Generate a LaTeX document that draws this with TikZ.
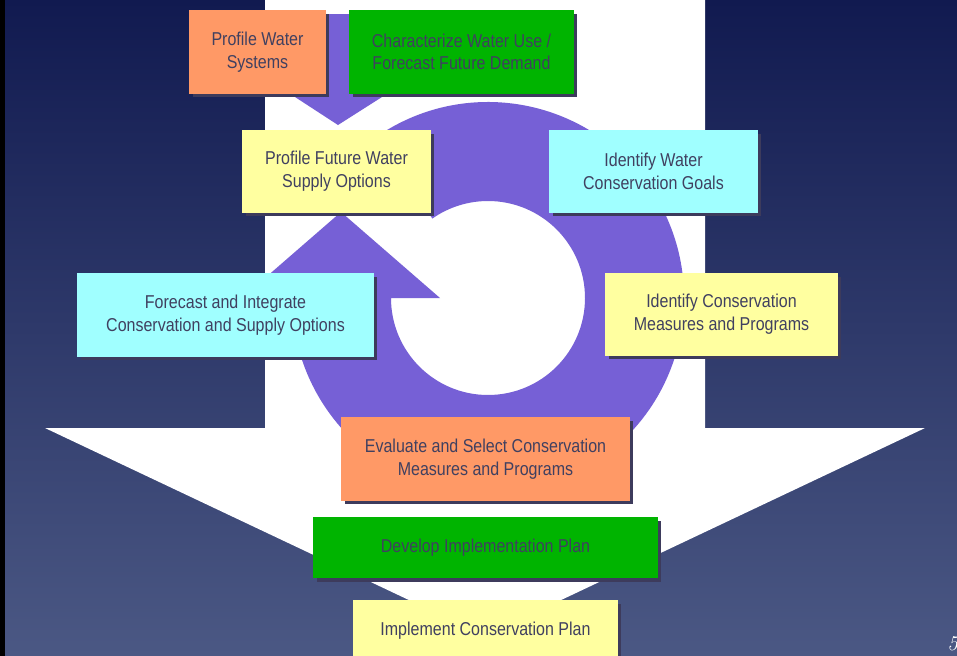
\documentclass[tikz,border=0pt]{standalone}
\usepackage{fontspec}
\usetikzlibrary{shadows}
\newfontfamily\boxfont[FakeStretch=0.86]{Liberation Sans}

\definecolor{bgtop}{RGB}{17,26,80}
\definecolor{bgbot}{RGB}{75,88,132}
\definecolor{ringpurple}{RGB}{118,96,214}
\definecolor{stepor}{RGB}{255,153,102}
\definecolor{stepgr}{RGB}{0,180,0}
\definecolor{stepye}{RGB}{255,255,160}
\definecolor{stepcy}{RGB}{160,255,255}
\definecolor{steptxt}{RGB}{64,64,96}
\definecolor{stepshd}{RGB}{61,59,92}

\begin{document}
\begin{tikzpicture}[
			x=0.02cm, y=0.02cm,
			stepbox/.style={
				rectangle,
				inner sep=0pt,
				minimum height=1.68cm,
				align=center,
				text=steptxt,
				font=\boxfont\fontsize{10.6}{12.9}\selectfont,
				general shadow={fill=stepshd, shadow xshift=0.07cm, shadow yshift=-0.07cm}
			},
			shape arrow/.style={fill=white}
			]
			
			% backdrop
			\useasboundingbox (0,0) rectangle (957,-656);
			\shade [top color=bgtop, bottom color=bgbot] (0,0) rectangle (957,-656);
			\fill [black] (0,0) rectangle (5,-656);
			
			% big white arrow
			\fill [shape arrow] (265,0) -- (705,0) -- (705,-428) -- (925,-428)
				-- (485,-636) -- (45,-428) -- (265,-428) -- cycle;
			
			% purple cycle
			\fill [ringpurple] (488,-298) ++(125:196)
				arc[start angle=125, end angle=-180, radius=196]
				-- (242,-298) -- (341,-212) -- (440,-298) -- (391,-298)
				arc[start angle=-180, end angle=125, radius=97] -- cycle;
			\fill [ringpurple] (312,-14) -- (364,-14) -- (364,-97) -- (382,-97)
				-- (338,-125) -- (295,-97) -- (312,-97) -- cycle;
			
			\node (pws) [stepbox, fill=stepor, minimum width=2.74cm] at (257.5,-52) {Profile Water\\Systems};
			\node (cwu) [stepbox, fill=stepgr, minimum width=4.5cm] at (461.5,-52) {Characterize Water Use /\\Forecast Future Demand};
			
			\node (pfw) [stepbox, fill=stepye, minimum width=3.78cm, minimum height=1.66cm] at (336.5,-171.5) {Profile Future Water\\Supply Options};
			\node (iwc) [stepbox, fill=stepcy, minimum width=4.18cm, minimum height=1.66cm] at (653.5,-171.5) {Identify Water\\Conservation Goals};
			
			\node (fic) [stepbox, fill=stepcy, minimum width=5.94cm] at (225.5,-315) {Forecast and Integrate\\Conservation and Supply Options};
			\node (icm) [stepbox, fill=stepye, minimum width=4.66cm, minimum height=1.66cm] at (721.5,-314.5) {Identify Conservation\\Measures and Programs};
			
			\node (esc) [stepbox, fill=stepor, minimum width=5.78cm] at (485.5,-459) {Evaluate and Select Conservation\\Measures and Programs};
			\node (dip) [stepbox, fill=stepgr, minimum width=6.9cm, minimum height=1.22cm] at (485.5,-547.5) {Develop Implementation Plan};
			\node (icp) [stepbox, fill=stepye, minimum width=5.3cm, minimum height=1.22cm] at (485.5,-630.5) {Implement Conservation Plan};
			
			\node (pgno) [anchor=west, text=white, inner sep=0pt, font=\itshape\fontsize{12}{12}\selectfont] at (947,-644) {5};
			
		\end{tikzpicture}
\end{document}
